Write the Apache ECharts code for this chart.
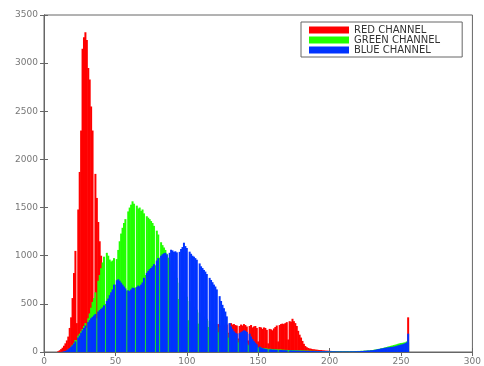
<!DOCTYPE html>
<html>
<head>
<meta charset="utf-8">
<script src="https://cdn.jsdelivr.net/npm/echarts@6/dist/echarts.min.js"></script>
<style>
  html, body { margin: 0; padding: 0; background: #fff; }
  #hist { width: 484px; height: 366px; }
</style>
</head>
<body>
<div id="hist"></div>
<script>
// pixel value bins 0..255
const bins = Array.from({ length: 256 }, (_, i) => i)
const xTicks = [0, 50, 100, 150, 200, 250, 300]
const yTicks = [0, 500, 1000, 1500, 2000, 2500, 3000, 3500]
const channelNames = ['RED CHANNEL', 'GREEN CHANNEL', 'BLUE CHANNEL']

const redCounts = [
  0, 0, 0, 0, 0, 0, 0, 0, 0, 0, 8, 18, 30, 45, 65, 90,
  120, 160, 250, 360, 560, 820, 1050, 300, 1480, 1870, 2300, 3150, 3270, 3320, 3240, 2950,
  2830, 2550, 2300, 500, 1850, 1600, 1350, 1150, 1000, 820, 680, 200, 480, 420, 380, 350,
  330, 320, 150, 310, 300, 300, 290, 290, 280, 280, 150, 280, 280, 270, 270, 270,
  150, 270, 265, 260, 262, 258, 260, 150, 262, 258, 260, 255, 258, 262, 150, 260,
  258, 150, 262, 260, 255, 258, 260, 150, 262, 258, 260, 256, 260, 262, 150, 258,
  260, 262, 258, 255, 260, 150, 262, 258, 260, 258, 262, 260, 150, 258, 260, 262,
  258, 260, 262, 150, 258, 260, 262, 260, 265, 270, 290, 270, 275, 280, 280, 285,
  285, 200, 295, 300, 285, 290, 280, 275, 140, 270, 285, 275, 290, 280, 265, 120,
  270, 280, 255, 265, 270, 250, 110, 260, 255, 240, 255, 250, 230, 90, 240, 235,
  225, 245, 260, 275, 110, 280, 290, 295, 290, 300, 310, 130, 320, 315, 345, 320,
  300, 270, 220, 180, 150, 115, 85, 62, 50, 42, 37, 34, 30, 28, 26, 24,
  22, 21, 20, 18, 16, 15, 14, 13, 12, 11, 10, 10, 9, 9, 8, 8,
  8, 7, 7, 7, 6, 6, 6, 6, 6, 5, 5, 5, 5, 5, 5, 5,
  5, 5, 5, 5, 5, 5, 5, 5, 5, 5, 5, 5, 5, 5, 5, 5,
  5, 5, 5, 5, 5, 5, 5, 5, 5, 5, 5, 5, 5, 5, 8, 360
]

const greenCounts = [
  0, 0, 0, 0, 0, 0, 0, 0, 0, 0, 0, 0, 0, 0, 2, 5,
  12, 22, 35, 55, 75, 95, 125, 120, 170, 190, 215, 240, 270, 300, 250, 350,
  400, 460, 520, 560, 620, 350, 740, 800, 870, 930, 990, 500, 1030, 1000, 960, 940,
  950, 975, 700, 965, 1060, 1150, 1230, 1290, 1340, 1380, 640, 1460, 1500, 1530, 1565, 1540,
  670, 1520, 1490, 1500, 1465, 1480, 1440, 800, 1410, 1395, 1380, 1360, 1340, 1310, 900, 1260,
  1220, 980, 1140, 1110, 1085, 1060, 1020, 980, 950, 910, 870, 840, 800, 770, 550, 720,
  690, 660, 630, 600, 575, 330, 530, 510, 490, 470, 455, 440, 295, 410, 395, 380,
  370, 355, 345, 260, 325, 315, 305, 295, 285, 275, 205, 260, 250, 240, 230, 220,
  210, 150, 190, 180, 170, 160, 150, 140, 100, 125, 115, 105, 100, 95, 90, 70,
  80, 75, 70, 65, 60, 55, 45, 48, 45, 42, 40, 38, 36, 30, 34, 32,
  30, 29, 28, 27, 25, 26, 25, 24, 23, 22, 22, 20, 21, 20, 20, 19,
  19, 18, 17, 17, 16, 16, 15, 15, 14, 14, 13, 13, 12, 12, 12, 11,
  11, 11, 10, 10, 10, 10, 9, 9, 9, 9, 9, 8, 8, 8, 8, 8,
  8, 8, 8, 8, 8, 8, 9, 9, 9, 10, 10, 10, 11, 11, 12, 12,
  13, 14, 15, 16, 17, 19, 21, 23, 25, 28, 31, 34, 37, 40, 44, 48,
  52, 56, 60, 64, 68, 72, 76, 80, 85, 90, 92, 95, 98, 100, 110, 100
]

const blueCounts = [
  0, 0, 0, 0, 0, 0, 0, 0, 0, 0, 0, 0, 0, 3, 6, 10,
  18, 28, 40, 55, 70, 88, 110, 0, 150, 170, 200, 225, 250, 275, 0, 310,
  330, 350, 365, 380, 395, 0, 420, 435, 448, 462, 485, 0, 530, 555, 590, 620,
  650, 700, 0, 745, 755, 740, 720, 700, 680, 660, 0, 640, 632, 650, 668, 665,
  0, 675, 690, 682, 700, 722, 770, 0, 822, 842, 860, 872, 890, 912, 0, 950,
  975, 0, 1000, 1015, 1025, 1030, 1012, 0, 1030, 1062, 1055, 1040, 1046, 1035, 0, 1040,
  1070, 1090, 1135, 1100, 1080, 0, 1042, 1020, 1000, 990, 975, 958, 0, 920, 890, 872,
  852, 835, 810, 0, 770, 748, 725, 700, 680, 650, 0, 580, 530, 490, 455, 420,
  370, 0, 300, 265, 240, 215, 200, 192, 0, 196, 205, 215, 225, 220, 208, 0,
  190, 160, 135, 112, 96, 80, 0, 56, 46, 40, 36, 32, 30, 0, 27, 26,
  25, 24, 23, 22, 0, 21, 20, 19, 18, 18, 17, 0, 16, 16, 15, 15,
  14, 14, 13, 13, 12, 12, 12, 11, 11, 11, 10, 10, 10, 10, 9, 9,
  9, 9, 8, 8, 8, 8, 8, 7, 7, 7, 7, 7, 7, 6, 6, 6,
  6, 6, 6, 6, 6, 6, 6, 7, 7, 7, 8, 8, 8, 9, 10, 11,
  12, 13, 14, 15, 16, 17, 18, 20, 23, 26, 29, 32, 35, 38, 41, 44,
  46, 48, 50, 52, 54, 56, 60, 64, 68, 72, 76, 80, 85, 92, 100, 190
]

const colors = ['#ff0000', '#22ff00', '#0033ff']
const labelFont = { color: '#777', fontSize: 9, fontFamily: 'DejaVu Sans' }

function pairs (counts) {
  return bins.map(b => [b, counts[b]])
}

function channel (idx, counts) {
  return {
    name: channelNames[idx],
    type: 'bar',
    xAxisIndex: 0,
    yAxisIndex: 0,
    barWidth: 2,
    barGap: '-100%',
    itemStyle: { color: colors[idx] },
    data: pairs(counts)
  }
}

const axisLineStyle = { lineStyle: { color: '#666', width: 1 } }
const tickStyle = { show: true, inside: true, length: 4, lineStyle: { color: '#666' } }

const option = {
  animation: false,
  backgroundColor: '#fff',
  legend: {
    orient: 'vertical',
    left: 301,
    top: 22,
    padding: [3, 22, 2, 8],
    itemWidth: 40,
    itemHeight: 7,
    itemGap: 0,
    icon: 'rect',
    borderColor: '#666',
    borderWidth: 1,
    textStyle: { color: '#333', fontSize: 10, lineHeight: 10, fontFamily: 'DejaVu Sans' },
    data: channelNames
  },
  grid: {
    left: 44,
    right: 8,
    top: 15,
    bottom: 11,
    show: true,
    borderColor: '#666',
    borderWidth: 1
  },
  xAxis: [{
    type: 'value',
    min: xTicks[0],
    max: xTicks[xTicks.length - 1],
    interval: 50,
    axisLine: axisLineStyle,
    axisTick: tickStyle,
    axisLabel: Object.assign({ margin: 5, showMaxLabel: true, formatter: v => String(v) }, labelFont),
    splitLine: { show: false }
  }, {
    type: 'value',
    position: 'top',
    min: xTicks[0],
    max: xTicks[xTicks.length - 1],
    interval: 50,
    axisLine: axisLineStyle,
    axisTick: tickStyle,
    axisLabel: { show: false },
    splitLine: { show: false }
  }],
  yAxis: [{
    type: 'value',
    min: yTicks[0],
    max: yTicks[yTicks.length - 1],
    interval: 500,
    axisLine: Object.assign({ show: true }, axisLineStyle),
    axisTick: tickStyle,
    axisLabel: Object.assign({ margin: 6, formatter: v => String(v) }, labelFont),
    splitLine: { show: false }
  }, {
    type: 'value',
    position: 'right',
    min: yTicks[0],
    max: yTicks[yTicks.length - 1],
    interval: 500,
    axisLine: Object.assign({ show: true }, axisLineStyle),
    axisTick: tickStyle,
    axisLabel: { show: false },
    splitLine: { show: false }
  }],
  series: [
    channel(0, redCounts),
    channel(1, greenCounts),
    channel(2, blueCounts)
  ]
}

const myChart = echarts.init(document.getElementById('hist'))
myChart.setOption(option)
</script>
</body>
</html>
